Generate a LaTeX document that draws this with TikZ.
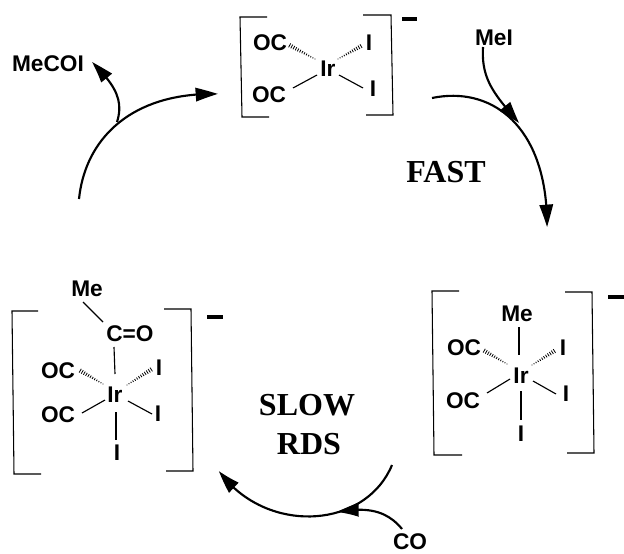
\documentclass[tikz,border=0pt]{standalone}
\usepackage{fontspec}
\setmainfont{Liberation Serif}
\setsansfont{Liberation Sans}
\usetikzlibrary{arrows.meta,decorations.markings,bending}
\tikzset{x=0.75pt,y=-0.75pt,
 chem/.style={font=\fontsize{17}{17}\selectfont\sffamily\bfseries,inner sep=0pt,text height=12pt,text depth=0pt},
 slab/.style={font=\fontsize{24}{26}\selectfont\rmfamily\bfseries,inner sep=0pt,align=center},
 bond/.style={line width=0.85pt},
 brk/.style={line width=0.8pt,line join=miter},
 neg/.style={line width=3.2pt},
 curve/.style={line width=1.6pt,-{Triangle[length=17pt,width=10pt,bend]}},
 hashb/.style={decorate,decoration={markings,
   mark=between positions 0 and 1 step 1.8pt with {
     \pgfmathsetmacro{\hw}{0.3+1.4*\pgfkeysvalueof{/pgf/decoration/mark info/distance from start}/\pgfdecoratedpathlength}
     \draw[line width=0.6pt] (0pt,-\hw pt) -- (0pt,\hw pt);}}}
}
\begin{document}
\begin{tikzpicture}
\useasboundingbox (0,0) rectangle (624,553);
% top complex
\node[chem] (ta) at (270,42) {OC};
\node[chem] (tb) at (269,94) {OC};
\node[chem] (tir) at (328,68) {Ir};
\node[chem] (tc) at (369,42) {I};
\node[chem] (td) at (373,88) {I};
\draw[hashb] ([shift={(-13,-9)}]tir.center) -- ([shift={(19,3)}]ta.center);
\draw[hashb] ([shift={(10,-9)}]tir.center) -- ([shift={(-6,3)}]tc.center);
\draw[bond] ([shift={(-11,7)}]tir.center) -- ([shift={(24,-6)}]tb.center);
\draw[bond] ([shift={(11,7)}]tir.center) -- ([shift={(-10,0)}]td.center);
\coordinate (t1) at (267,17); \coordinate (t2) at (240,17); \coordinate (t3) at (242,117); \coordinate (t4) at (269,117);
\draw[brk] (t1) -- (t2) -- (t3) -- (t4);
\coordinate (t5) at (363,15); \coordinate (t6) at (391,15); \coordinate (t7) at (393,115); \coordinate (t8) at (366,115);
\draw[brk] (t5) -- (t6) -- (t7) -- (t8);
\coordinate (tm1) at (402,19); \coordinate (tm2) at (417,19);
\draw[neg] (tm1) -- (tm2);
% right complex
\node[chem] (ra) at (464,347) {OC};
\node[chem] (rb) at (463,400) {OC};
\node[chem] (rme) at (517,313) {Me};
\node[chem] (rir) at (521,375) {Ir};
\node[chem] (rc) at (563,347) {I};
\node[chem] (rd) at (566,393) {I};
\node[chem] (re) at (521,433) {I};
\draw[bond] ([shift={(2,14)}]rme.center) -- ([shift={(-2,-20)}]rir.center);
\draw[hashb] ([shift={(-14,-11)}]rir.center) -- ([shift={(19,3)}]ra.center);
\draw[hashb] ([shift={(11,-10)}]rir.center) -- ([shift={(-7,3)}]rc.center);
\draw[bond] ([shift={(-11,4)}]rir.center) -- ([shift={(24,-7)}]rb.center);
\draw[bond] ([shift={(12,6)}]rir.center) -- ([shift={(-10,1)}]rd.center);
\draw[bond] ([shift={(0,16)}]rir.center) -- ([shift={(0,-13)}]re.center);
\coordinate (r1) at (459,291); \coordinate (r2) at (432,291); \coordinate (r3) at (434,455); \coordinate (r4) at (462,455);
\draw[brk] (r1) -- (r2) -- (r3) -- (r4);
\coordinate (r5) at (565,292); \coordinate (r6) at (592,292); \coordinate (r7) at (594,453); \coordinate (r8) at (567,453);
\draw[brk] (r5) -- (r6) -- (r7) -- (r8);
\coordinate (rm1) at (608,297); \coordinate (rm2) at (624,297);
\draw[neg] (rm1) -- (rm2);
% left complex
\node[chem] (lme) at (87,288) {Me};
\node[chem] (lco) at (130,333) {C=O};
\node[chem] (la) at (58,370) {OC};
\node[chem] (lb) at (58,414) {OC};
\node[chem] (lir) at (115,394) {Ir};
\node[chem] (lc) at (159,367) {I};
\node[chem] (ld) at (158,413) {I};
\node[chem] (le) at (117,452) {I};
\draw[bond] ([shift={(-4,14)}]lme.center) -- ([shift={(-27,-11)}]lco.center);
\draw[bond] ([shift={(-16,14)}]lco.center) -- ([shift={(0,-20)}]lir.center);
\draw[hashb] ([shift={(-12,-10)}]lir.center) -- ([shift={(21,0)}]la.center);
\draw[hashb] ([shift={(12,-9)}]lir.center) -- ([shift={(-7,2)}]lc.center);
\draw[bond] ([shift={(-10,6)}]lir.center) -- ([shift={(24,-1)}]lb.center);
\draw[bond] ([shift={(13,7)}]lir.center) -- ([shift={(-6,1)}]ld.center);
\draw[bond] ([shift={(1,18)}]lir.center) -- ([shift={(-1,-12)}]le.center);
\coordinate (l1) at (38,311); \coordinate (l2) at (12,311); \coordinate (l3) at (14,474); \coordinate (l4) at (41,474);
\draw[brk] (l1) -- (l2) -- (l3) -- (l4);
\coordinate (l5) at (164,309); \coordinate (l6) at (191,309); \coordinate (l7) at (193,471); \coordinate (l8) at (166,471);
\draw[brk] (l5) -- (l6) -- (l7) -- (l8);
\coordinate (lm1) at (207,317); \coordinate (lm2) at (223,317);
\draw[neg] (lm1) -- (lm2);
% labels
\node[chem] (mecoi) at (48,63) {MeCOI};
\node[chem] (mei) at (494,37) {MeI};
\node[chem] (co) at (410,541) {CO};
\node[slab] (fast) at (446,172) {FAST};
\node[slab] (slow) at (307,405) {SLOW};
\node[slab] (rds) at (309,444) {RDS};
% arrows
\coordinate (a1s) at (79,199); \coordinate (a1e) at (218,94);
\draw[curve] (a1s) .. controls (85,140) and (130,92) .. (a1e);
\coordinate (a2s) at (117,122); \coordinate (a2e) at (92,62);
\draw[curve] (a2s) .. controls (124,100) and (115,85) .. (a2e);
\coordinate (a3s) at (432,98); \coordinate (a3e) at (547,227);
\draw[curve] (a3s) .. controls (495,85) and (548,130) .. (a3e);
\coordinate (a4s) at (483,47); \coordinate (a4e) at (519,123);
\draw[curve] (a4s) .. controls (481,80) and (495,95) .. (a4e);
\coordinate (a5s) at (392,465); \coordinate (a5e) at (219,471);
\draw[curve] (a5s) .. controls (365,530) and (265,535) .. (a5e);
\coordinate (a6s) at (402,529) ; \coordinate (a6e) at (337,512);
\draw[curve] (a6s) .. controls (388,512) and (370,506) .. (a6e);
\end{tikzpicture}
\end{document}
